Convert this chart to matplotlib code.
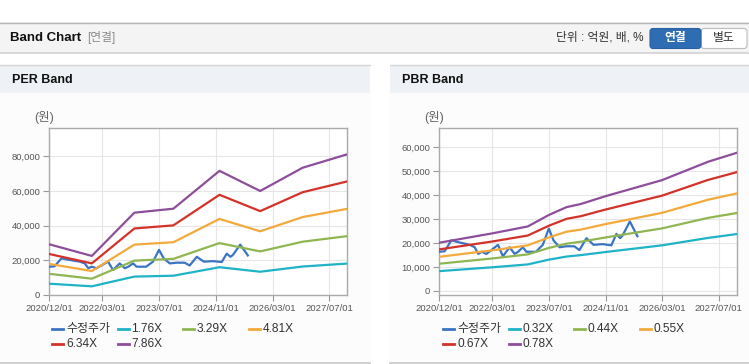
import matplotlib
matplotlib.use('Agg')
import matplotlib.pyplot as plt
from matplotlib.patches import Rectangle, FancyBboxPatch
import pandas as pd

plt.rcParams['font.family'] = ['Liberation Sans', 'Noto Sans CJK KR']

# 수정주가 (same series in both charts)
price_dates = ['2020-12-01', '2021-01-15', '2021-03-15', '2021-05-15', '2021-08-20',
               '2021-10-01', '2021-11-01', '2021-12-01', '2022-01-10', '2022-04-20',
               '2022-06-01', '2022-07-28', '2022-09-10', '2022-10-10', '2022-11-20',
               '2022-12-20', '2023-03-12', '2023-05-10', '2023-07-01', '2023-08-10',
               '2023-10-01', '2023-11-28', '2024-02-05', '2024-03-20', '2024-05-20',
               '2024-07-20', '2024-10-05', '2024-12-20', '2025-02-01', '2025-03-05',
               '2025-03-25', '2025-05-28', '2025-08-01']
price = [16300, 16500, 21100, 20300, 19200,
         18200, 15400, 16300, 15400, 19200,
         14400, 18200, 15400, 16300, 18200,
         16300, 16300, 19200, 26000, 21100,
         18200, 18600, 18600, 17000, 22000,
         19200, 19500, 19000, 23800, 22000,
         23000, 29000, 22800]

# PER band
per_dates = ['2020-12-01', '2021-12-01', '2022-12-01', '2023-11-01',
             '2024-12-01', '2025-11-15', '2026-11-15', '2027-12-01']
per_labels = ['1.76X', '3.29X', '4.81X', '6.34X', '7.86X']
per_176 = [6500, 5000, 10600, 11100, 16000, 13400, 16400, 18100]
per_329 = [12200, 9400, 19800, 20800, 29900, 25100, 30700, 33900]
per_481 = [17900, 13800, 29000, 30400, 43800, 36700, 44900, 49600]
per_634 = [23600, 18200, 38300, 40100, 57700, 48300, 59200, 65400]
per_786 = [29200, 22500, 47400, 49700, 71500, 59900, 73300, 81000]

# PBR band
pbr_dates = ['2020-12-01', '2022-03-01', '2023-01-01', '2023-07-01', '2023-12-01',
             '2024-04-01', '2024-11-01', '2026-03-01', '2027-04-01', '2027-12-01']
pbr_labels = ['0.32X', '0.44X', '0.55X', '0.67X', '0.78X']
pbr_032 = [8200, 9800, 11000, 13000, 14300, 14900, 16200, 19000, 22100, 23700]
pbr_044 = [11300, 13500, 15200, 17900, 19700, 20500, 22300, 26100, 30500, 32500]
pbr_055 = [14200, 16900, 19000, 22300, 24700, 25600, 27900, 32600, 38100, 40700]
pbr_067 = [17300, 20600, 23100, 27200, 30100, 31200, 34000, 39800, 46400, 49600]
pbr_078 = [20100, 24000, 26900, 31700, 35000, 36300, 39600, 46300, 54000, 57700]

tick_dates = ['2020/12/01', '2022/03/01', '2023/07/01', '2024/11/01', '2026/03/01', '2027/07/01']
colors = ['#3b74c3', '#1fb3c8', '#8fb653', '#f3a93c', '#d3322a', '#8d4e9b']

W, H = 749, 364
fig = plt.figure(figsize=(W / 100, H / 100), dpi=100)
fig.patch.set_facecolor('white')

# page decoration drawn in pixel coordinates
bg = fig.add_axes([0, 0, 1, 1], zorder=0)
bg.set_xlim(0, W)
bg.set_ylim(H, 0)
bg.axis('off')

bg.add_patch(Rectangle((0, 22), W, 31, facecolor='#f4f4f4', edgecolor='none'))
bg.plot([0, W], [22.5, 22.5], color='#b5b5b5', lw=1)
bg.plot([0, W], [53, 53], color='#d2d2d2', lw=1.2)
bg.text(10, 38, 'Band Chart', fontsize=9.5, fontweight='bold', color='#111', va='center')
bg.text(87, 38, '[연결]', fontsize=8.5, color='#8a8a8a', va='center')
bg.text(643, 38, '단위 : 억원, 배, %', fontsize=8.5, color='#333', va='center', ha='right')
bg.add_patch(FancyBboxPatch((701, 28.5), 46, 20, boxstyle='round,pad=0,rounding_size=3',
                            facecolor='white', edgecolor='#bdbdbd', lw=0.8))
bg.add_patch(FancyBboxPatch((650, 28.5), 51, 20, boxstyle='round,pad=0,rounding_size=3',
                            facecolor='#2f6db3', edgecolor='#2a62a2', lw=0.8))
bg.text(675.5, 38.5, '연결', fontsize=8.5, fontweight='bold', color='white', ha='center', va='center')
bg.text(724, 38.5, '별도', fontsize=8.5, color='#333', ha='center', va='center')

panels = [(0, 370, 'PER Band'), (390, W, 'PBR Band')]
for x0, x1, title in panels:
    bg.add_patch(Rectangle((x0, 93), x1 - x0, 270, facecolor='#fcfcfc', edgecolor='none'))
    bg.add_patch(Rectangle((x0, 65), x1 - x0, 28, facecolor='#eef1f6', edgecolor='none'))
    bg.plot([x0, x1], [64.5, 64.5], color='#d6d6d6', lw=1)
    bg.plot([x0, x1], [363, 363], color='#c8c8c8', lw=1.2)
    bg.text(x0 + 12, 80, title, fontsize=9, fontweight='bold', color='#111', va='center')
    bg.text(x0 + 44, 118, '(원)', fontsize=9, color='#666', ha='center', va='center')


def band_chart(rect, dates, bands, labels, ylim, yticks, legend_x):
    ax = fig.add_axes(rect, zorder=1)
    ax.set_facecolor('white')
    d = pd.to_datetime(dates)
    series = [(pd.to_datetime(price_dates), price, '수정주가')]
    for vals, lab in zip(bands, labels):
        series.append((d, vals, lab))
    for (x, y, lab), c in zip(series, colors):
        ax.plot(x, y, color=c, lw=1.6, solid_joinstyle='round', zorder=3)
    # legend, 4 columns
    for i, ((x, y, lab), c) in enumerate(zip(series, colors)):
        lx = legend_x + (i % 4) * 65.5
        ly = 329 + (i // 4) * 15
        bg.plot([lx, lx + 11], [ly, ly], color=c, lw=2)
        bg.text(lx + 14, ly, lab, fontsize=8.6, color='#333', va='center')

    ax.set_xlim(pd.Timestamp('2020-12-01'), pd.Timestamp('2027-12-03'))
    ax.set_ylim(*ylim)
    ax.set_yticks(yticks)
    ax.set_yticklabels([f'{v:,}' for v in yticks])
    ticks = pd.to_datetime(tick_dates)
    ax.set_xticks(ticks)
    ax.set_xticklabels(tick_dates)
    ax.grid(True, color='#e6e6e6', lw=0.8)
    ax.set_axisbelow(True)
    for s in ax.spines.values():
        s.set_color('#aaaaaa')
        s.set_linewidth(1)
    ax.tick_params(labelsize=6.8, colors='#999999', labelcolor='#555555', length=4, width=0.8, pad=2.5)
    return ax


band_chart([49.3 / W, 69 / H, 298 / W, 166.7 / H], per_dates,
           [per_176, per_329, per_481, per_634, per_786], per_labels,
           (0, 96000), [0, 20000, 40000, 60000, 80000], 52)
band_chart([439.3 / W, 69 / H, 297.4 / W, 166.7 / H], pbr_dates,
           [pbr_032, pbr_044, pbr_055, pbr_067, pbr_078], pbr_labels,
           (-1800, 68000), [0, 10000, 20000, 30000, 40000, 50000, 60000], 443)

fig.savefig('out.png', dpi=100)
